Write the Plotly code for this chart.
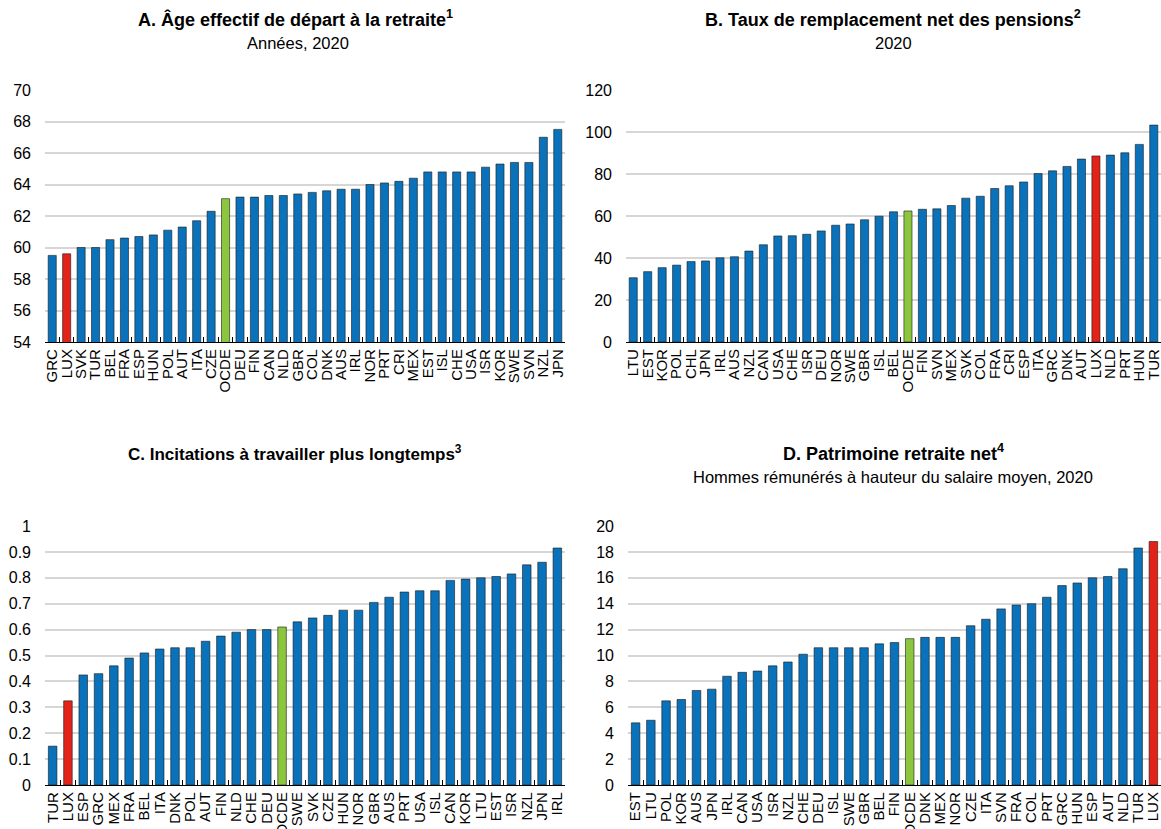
import plotly.graph_objects as go

# Panel A: effective age of labour market exit
a_codes = ["GRC", "LUX", "SVK", "TUR", "BEL", "FRA", "ESP", "HUN", "POL", "AUT", "ITA", "CZE",
           "OCDE", "DEU", "FIN", "CAN", "NLD", "GBR", "COL", "DNK", "AUS", "IRL", "NOR", "PRT",
           "CRI", "MEX", "EST", "ISL", "CHE", "USA", "ISR", "KOR", "SWE", "SVN", "NZL", "JPN"]
a_values = [59.5, 59.6, 60.0, 60.0, 60.5, 60.6, 60.7, 60.8, 61.1, 61.3, 61.7, 62.3,
            63.1, 63.2, 63.2, 63.3, 63.3, 63.4, 63.5, 63.6, 63.7, 63.7, 64.0, 64.1,
            64.2, 64.4, 64.8, 64.8, 64.8, 64.8, 65.1, 65.3, 65.4, 65.4, 67.0, 67.5]

# Panel B: net pension replacement rate
b_codes = ["LTU", "EST", "KOR", "POL", "CHL", "JPN", "IRL", "AUS", "NZL", "CAN", "USA", "CHE",
           "ISR", "DEU", "NOR", "SWE", "GBR", "ISL", "BEL", "OCDE", "FIN", "SVN", "MEX", "SVK",
           "COL", "FRA", "CRI", "ESP", "ITA", "GRC", "DNK", "AUT", "LUX", "NLD", "PRT", "HUN", "TUR"]
b_values = [30.6, 33.5, 35.4, 36.6, 38.3, 38.6, 40.1, 40.6, 43.3, 46.3, 50.5, 50.6,
            51.3, 52.9, 55.6, 56.2, 58.2, 59.9, 62.0, 62.4, 63.2, 63.4, 65.0, 68.5,
            69.4, 73.1, 74.4, 76.2, 80.2, 81.5, 83.6, 87.1, 88.6, 89.0, 90.1, 94.1, 103.3]

# Panel C: incentives to work longer
c_codes = ["TUR", "LUX", "ESP", "GRC", "MEX", "FRA", "BEL", "ITA", "DNK", "POL", "AUT", "FIN",
           "NLD", "CHE", "DEU", "OCDE", "SWE", "SVK", "CZE", "HUN", "NOR", "GBR", "AUS", "PRT",
           "USA", "ISL", "CAN", "KOR", "LTU", "EST", "ISR", "NZL", "JPN", "IRL"]
c_values = [0.15, 0.325, 0.425, 0.43, 0.46, 0.49, 0.51, 0.525, 0.53, 0.53, 0.555, 0.575,
            0.59, 0.60, 0.60, 0.61, 0.63, 0.645, 0.655, 0.675, 0.675, 0.705, 0.725, 0.745,
            0.75, 0.75, 0.79, 0.795, 0.80, 0.805, 0.815, 0.85, 0.86, 0.915]

# Panel D: net pension wealth
d_codes = ["EST", "LTU", "POL", "KOR", "AUS", "JPN", "IRL", "CAN", "USA", "ISR", "NZL", "CHE",
           "DEU", "ISL", "SWE", "GBR", "BEL", "FIN", "OCDE", "DNK", "MEX", "NOR", "CZE", "ITA",
           "SVN", "FRA", "COL", "PRT", "GRC", "HUN", "ESP", "AUT", "NLD", "TUR", "LUX"]
d_values = [4.8, 5.0, 6.5, 6.6, 7.3, 7.4, 8.4, 8.7, 8.8, 9.2, 9.5, 10.1,
            10.6, 10.6, 10.6, 10.6, 10.9, 11.0, 11.3, 11.4, 11.4, 11.4, 12.3, 12.8,
            13.6, 13.9, 14.0, 14.5, 15.4, 15.6, 16.0, 16.1, 16.7, 18.3, 18.8]

BLUE = "#0A72BA"
RED = "#E2231A"
GREEN = "#8CC63F"
FONT = "Liberation Sans, Arial, sans-serif"

W, H = 1161, 829


def colours(codes):
    out = []
    for c in codes:
        if c == "LUX":
            out.append(RED)
        elif c == "OCDE":
            out.append(GREEN)
        else:
            out.append(BLUE)
    return out


panels = [
    # codes, values, plot span in px (left, right), (top, bottom), y range, y step
    (a_codes, a_values, (45, 565), (90, 342), (54, 70), 2),
    (b_codes, b_values, (626, 1163), (90, 342), (0, 120), 20),
    (c_codes, c_values, (45, 565), (526, 785), (0, 1), 0.1),
    (d_codes, d_values, (628, 1163), (526, 785), (0, 20), 2),
]

fig = go.Figure()
layout = dict(
    width=W, height=H,
    margin=dict(l=0, r=0, t=0, b=0),
    paper_bgcolor="white", plot_bgcolor="white",
    showlegend=False, bargap=0.44,
    font=dict(family=FONT, size=15, color="#000000"),
)

for i, (codes, vals, (x0, x1), (ytop, ybot), yr, dt) in enumerate(panels, start=1):
    sfx = "" if i == 1 else str(i)
    fig.add_trace(go.Bar(
        x=codes, y=vals,
        marker=dict(color=colours(codes), line=dict(color="#1a1a1a", width=0.6)),
        xaxis="x" + sfx, yaxis="y" + sfx,
        hoverinfo="x+y",
    ))
    layout["xaxis" + sfx] = dict(
        domain=[x0 / W, min(x1 / W, 1.0)], anchor="y" + sfx,
        type="category", tickmode="array", tickvals=codes, ticktext=codes,
        tickangle=-90, showgrid=False,
        showline=True, linecolor="#000000", linewidth=1.2,
        ticks="inside", ticklen=5, tickcolor="#000000", tickwidth=1,
        tickson="boundaries", tickfont=dict(family=FONT, size=15, color="#000"),
        range=[-0.5, len(codes) - 0.5], fixedrange=True, automargin=False,
    )
    layout["yaxis" + sfx] = dict(
        domain=[1 - ybot / H, 1 - ytop / H], anchor="x" + sfx,
        range=list(yr), dtick=dt, tick0=yr[0], showgrid=True,
        gridcolor="#D6D6D6", gridwidth=1.5, zeroline=False, showline=False,
        ticks="", ticklabelstandoff=13, automargin=False,
        tickfont=dict(family=FONT, size=16, color="#000"), fixedrange=True,
    )

TITLE = dict(family=FONT, size=18, color="#000")
SUB = dict(family=FONT, size=16.5, color="#000")
annotations = [
    ("<b>A. Âge effectif de départ à la retraite<sup>1</sup></b>", 295, 19, TITLE),
    ("Années, 2020", 298, 43, SUB),
    ("<b>B. Taux de remplacement net des pensions<sup>2</sup></b>", 893, 19, TITLE),
    ("2020", 893, 43, SUB),
    ("<b>C. Incitations à travailler plus longtemps<sup>3</sup></b>", 295, 453, dict(TITLE, size=17)),
    ("<b>D. Patrimoine retraite net<sup>4</sup></b>", 893, 453, TITLE),
    ("Hommes rémunérés à hauteur du salaire moyen, 2020", 893, 477, SUB),
]
layout["annotations"] = [
    dict(text=t, x=x / W, y=1 - y / H, xref="paper", yref="paper", showarrow=False,
         xanchor="center", yanchor="middle", font=f)
    for t, x, y, f in annotations
]

fig.update_layout(**layout)
fig.write_html("out.html")
